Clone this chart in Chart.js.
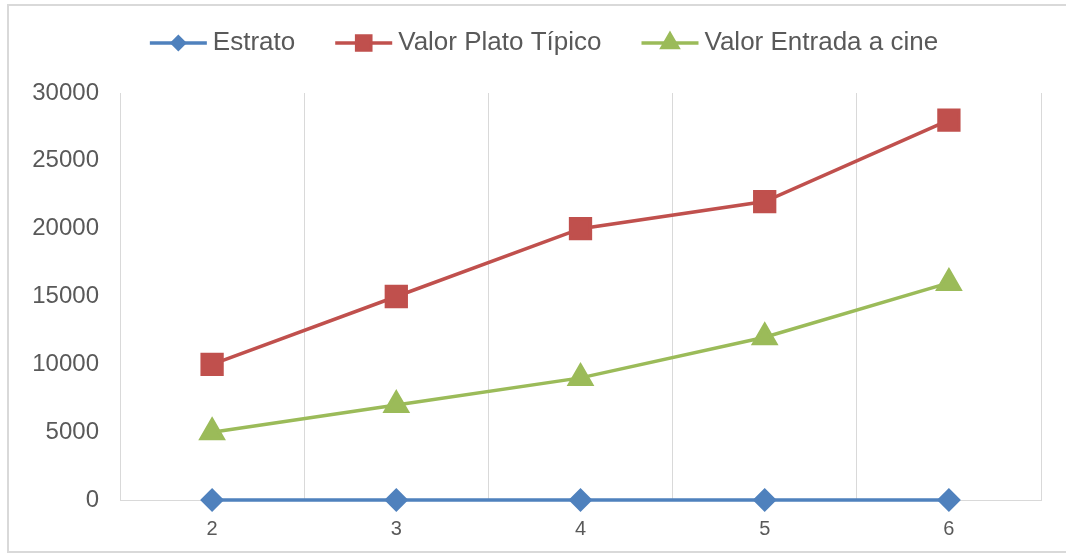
<!DOCTYPE html>
<html>
<head>
<meta charset="utf-8">
<script src="https://cdn.jsdelivr.net/npm/chart.js@4.4.1/dist/chart.umd.min.js"></script>
<style>
  html, body { margin: 0; padding: 0; background: #fff; overflow: hidden; }
  #wrap { position: relative; width: 1066px; height: 557px; }
  #frame {
    position: absolute; left: 7px; top: 4px; width: 1080px; height: 549px;
    border: 2px solid #d9d9d9; box-sizing: border-box;
  }
  canvas { position: absolute; left: 0; top: 0; }
</style>
</head>
<body>
<div id="wrap">
  <div id="frame"></div>
  <canvas id="chart" width="1066" height="557"></canvas>
</div>
<script>
const estratos = ['2', '3', '4', '5', '6'];
const estratoValues = [2, 3, 4, 5, 6];
const platoTipico = [10000, 15000, 20000, 22000, 28000];
const entradaCine = [5000, 7000, 9000, 12000, 16000];
const yTicks = [0, 5000, 10000, 15000, 20000, 25000, 30000];

const FONT = '"Liberation Sans", Arial, sans-serif';
const TEXT = '#595959';

// Excel-style legend: short line with the marker in the middle, then the label
const lineLegend = {
  id: 'lineLegend',
  afterDraw(chart) {
    const ctx = chart.ctx;
    const lineW = 57, gapText = 6, gapItem = 40, cy = 43;
    ctx.save();
    ctx.font = '26px ' + FONT;
    const items = chart.data.datasets.map(ds => ({ ds, w: ctx.measureText(ds.label).width }));
    const total = items.reduce((s, it) => s + lineW + gapText + it.w, 0) + gapItem * (items.length - 1);
    let x = 544 - total / 2;
    items.forEach(({ ds, w }) => {
      ctx.strokeStyle = ds.borderColor;
      ctx.lineWidth = 3.5;
      ctx.beginPath();
      ctx.moveTo(x, cy);
      ctx.lineTo(x + lineW, cy);
      ctx.stroke();
      ctx.fillStyle = ds.borderColor;
      Chart.helpers.drawPoint(ctx, {
        pointStyle: ds.pointStyle,
        radius: ds.legendRadius,
        borderWidth: 1
      }, x + lineW / 2, cy);
      ctx.fillStyle = TEXT;
      ctx.textBaseline = 'middle';
      ctx.textAlign = 'left';
      ctx.fillText(ds.label, x + lineW + gapText, cy);
      x += lineW + gapText + w + gapItem;
    });
    ctx.restore();
  }
};

function series(label, data, color, style, radius, legendRadius) {
  return {
    label: label,
    data: data,
    borderColor: color,
    backgroundColor: color,
    pointBackgroundColor: color,
    pointBorderColor: color,
    pointStyle: style,
    pointRadius: radius,
    pointHoverRadius: radius,
    legendRadius: legendRadius,
    borderWidth: 3.5,
    tension: 0,
    clip: false
  };
}

new Chart(document.getElementById('chart'), {
  type: 'line',
  data: {
    labels: estratos,
    datasets: [
      series('Estrato', estratoValues, '#4f81bd', 'rectRot', 9.5, 6),
      series('Valor Plato Típico', platoTipico, '#c0504d', 'rect', 14, 10),
      series('Valor Entrada a cine', entradaCine, '#9bbb59', 'triangle', 12.5, 9)
    ]
  },
  options: {
    responsive: false,
    animation: false,
    layout: { padding: { left: 0, top: 93, right: 25, bottom: 0 } },
    plugins: {
      legend: { display: false },
      tooltip: { enabled: false }
    },
    scales: {
      x: {
        offset: true,
        grid: { offset: true, color: '#d9d9d9', lineWidth: 1, drawTicks: false },
        border: { display: true, color: '#d9d9d9', width: 1 },
        ticks: { color: TEXT, font: { family: FONT, size: 20 }, padding: 17 },
        afterFit(scale) { scale.height = 57; }
      },
      y: {
        min: 0,
        max: 30000,
        afterBuildTicks(scale) { scale.ticks = yTicks.map(v => ({ value: v })); },
        grid: { display: false, drawTicks: false },
        border: { display: false },
        ticks: {
          color: TEXT,
          font: { family: FONT, size: 24 },
          padding: 21,
          callback: v => String(v)
        },
        afterFit(scale) { scale.width = 120; }
      }
    }
  },
  plugins: [lineLegend]
});
</script>
</body>
</html>
